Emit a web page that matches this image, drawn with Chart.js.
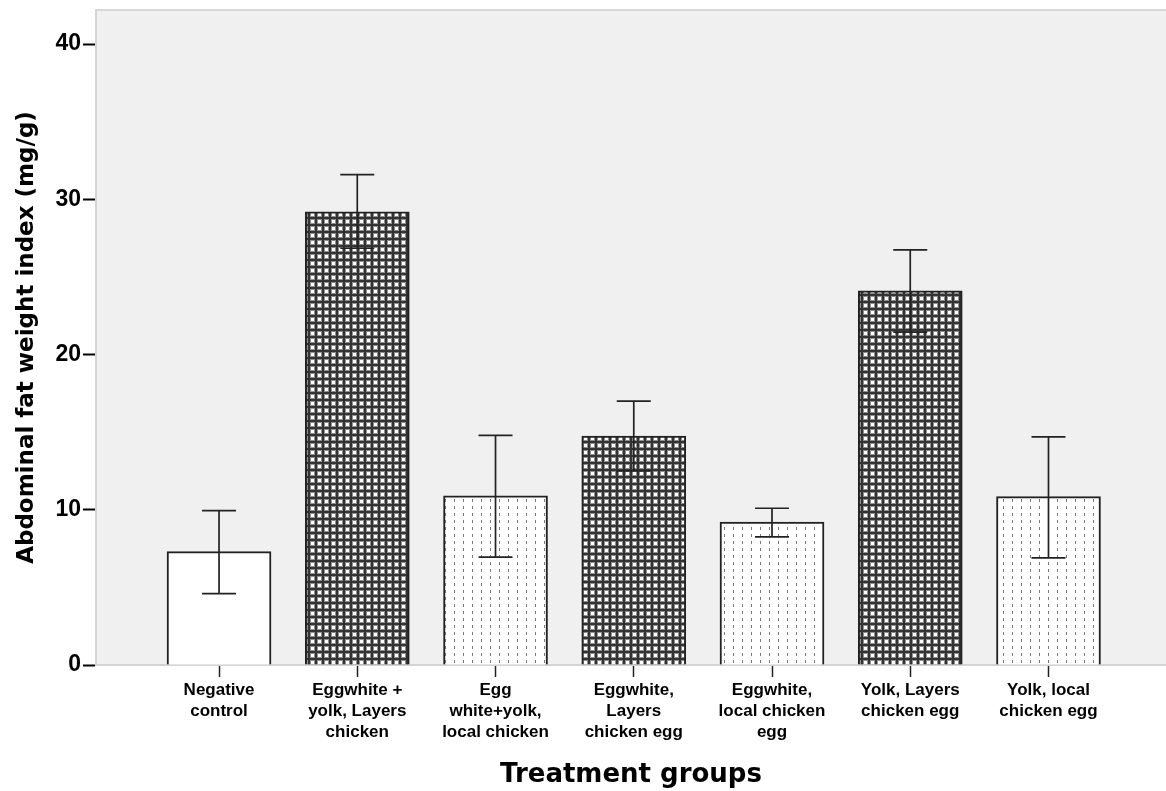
<!DOCTYPE html>
<html>
<head>
<title>Abdominal fat weight index</title>
<script src="https://cdn.jsdelivr.net/npm/chart.js"></script>
<style>
  body { margin: 0; background: #fff; }
  #wrap { width: 1166px; height: 791px; }
</style>
</head>
<body>
<div id="wrap"><canvas id="fatChart"></canvas></div>
<script>
  // data
  const groups = [
    ['Negative', 'control'],
    ['Eggwhite +', 'yolk, Layers', 'chicken'],
    ['Egg', 'white+yolk,', 'local chicken'],
    ['Eggwhite,', 'Layers', 'chicken egg'],
    ['Eggwhite,', 'local chicken', 'egg'],
    ['Yolk, Layers', 'chicken egg'],
    ['Yolk, local', 'chicken egg']
  ];
  const meanIndex = [7.3, 29.2, 10.9, 14.75, 9.2, 24.1, 10.85];
  const errUpper  = [9.95, 31.6, 14.8, 17.0, 10.1, 26.75, 14.7];
  const errLower  = [4.6, 26.85, 6.95, 12.5, 8.25, 21.45, 6.9];
  const yTicks    = [0, 10, 20, 30, 40];

  // fill patterns
  function checkerPattern(ctx) {
    const c = document.createElement('canvas');
    c.width = 7; c.height = 7;
    const g = c.getContext('2d');
    g.fillStyle = '#333333'; g.fillRect(0, 0, 7, 7);
    g.fillStyle = '#8f8f8f'; g.fillRect(2, 2, 5, 5);
    g.fillStyle = '#ffffff'; g.fillRect(3, 3, 3, 3);
    return ctx.createPattern(c, 'repeat');
  }
  function dashPattern(ctx) {
    const c = document.createElement('canvas');
    c.width = 9; c.height = 7;
    const g = c.getContext('2d');
    g.fillStyle = '#ffffff'; g.fillRect(0, 0, 9, 7);
    g.fillStyle = '#7a7a7a'; g.fillRect(4, 2, 1, 3);
    return ctx.createPattern(c, 'repeat');
  }

  const canvas = document.getElementById('fatChart');
  const ctx = canvas.getContext('2d');
  const checker = checkerPattern(ctx);
  const dashes = dashPattern(ctx);
  const fills = ['#ffffff', checker, dashes, checker, dashes, checker, dashes];

  // grey plot background with thin frame
  const plotBg = {
    id: 'plotBg',
    beforeDraw(chart) {
      const { ctx, chartArea: a } = chart;
      ctx.save();
      ctx.fillStyle = '#f0f0f0';
      ctx.fillRect(a.left, a.top, a.right - a.left, a.bottom - a.top);
      ctx.strokeStyle = '#d8d8d8';
      ctx.lineWidth = 2;
      ctx.beginPath();
      ctx.moveTo(a.left, a.top);
      ctx.lineTo(a.right, a.top);
      ctx.stroke();
      ctx.restore();
    }
  };

  // error bars
  const errorBars = {
    id: 'errorBars',
    afterDatasetsDraw(chart) {
      const { ctx, scales: { y } } = chart;
      const meta = chart.getDatasetMeta(0);
      ctx.save();
      ctx.strokeStyle = '#222';
      ctx.lineWidth = 1.7;
      meta.data.forEach((bar, i) => {
        const top = y.getPixelForValue(errUpper[i]);
        const bot = y.getPixelForValue(errLower[i]);
        ctx.beginPath();
        ctx.moveTo(bar.x, top); ctx.lineTo(bar.x, bot);
        ctx.moveTo(bar.x - 17, top); ctx.lineTo(bar.x + 17, top);
        ctx.moveTo(bar.x - 17, bot); ctx.lineTo(bar.x + 17, bot);
        ctx.stroke();
      });
      ctx.restore();
    }
  };

  new Chart(ctx, {
    type: 'bar',
    data: {
      datasets: [{
        data: meanIndex.map((v, i) => ({ x: i, y: v })),
        backgroundColor: fills,
        borderColor: '#222',
        borderWidth: 2,
        barThickness: 104
      }]
    },
    options: {
      responsive: true,
      maintainAspectRatio: false,
      animation: false,
      layout: { padding: { top: 10, right: 0, left: 0, bottom: 0 } },
      plugins: {
        legend: { display: false },
        tooltip: { enabled: false }
      },
      scales: {
        x: {
          type: 'linear',
          min: -0.89,
          max: 6.85,
          offset: false,
          afterFit(scale) { scale.height = 126; scale.paddingLeft = 0; scale.paddingRight = 0; },
          afterBuildTicks(scale) {
            scale.ticks = groups.map((g, i) => ({ value: i }));
          },
          grid: {
            offset: false,
            drawOnChartArea: false,
            tickLength: 12,
            tickColor: '#222',
            tickWidth: 1.5
          },
          border: { color: '#d4d4d4', width: 2 },
          ticks: {
            autoSkip: false,
            maxRotation: 0,
            padding: 3,
            color: '#000',
            font: { family: 'Liberation Sans, Arial, sans-serif', weight: 'bold', size: 17, lineHeight: 1.22 },
            callback: (v) => groups[v]
          },
          title: {
            display: true,
            text: 'Treatment groups',
            color: '#000',
            font: { family: 'DejaVu Sans', weight: 'bold', size: 26 },
            padding: { top: 0, bottom: 0 }
          }
        },
        y: {
          min: 0,
          max: 42.2,
          afterFit(scale) { scale.width = 96; scale.paddingTop = 0; scale.paddingBottom = 0; },
          afterBuildTicks(scale) {
            scale.ticks = yTicks.map(v => ({ value: v }));
          },
          grid: {
            drawOnChartArea: false,
            tickLength: 13,
            tickColor: '#000',
            tickWidth: 2
          },
          border: { color: '#d4d4d4', width: 2 },
          ticks: {
            padding: 2,
            color: '#000',
            font: { family: 'Liberation Sans Narrow, Liberation Sans, Arial, sans-serif', weight: 'bold', size: 23 }
          },
          title: {
            display: true,
            text: 'Abdominal fat weight index (mg/g)',
            color: '#000',
            font: { family: 'DejaVu Sans', weight: 'bold', size: 23 },
            padding: { top: 13, bottom: 0 }
          }
        }
      }
    },
    plugins: [plotBg, errorBars]
  });
</script>
</body>
</html>
